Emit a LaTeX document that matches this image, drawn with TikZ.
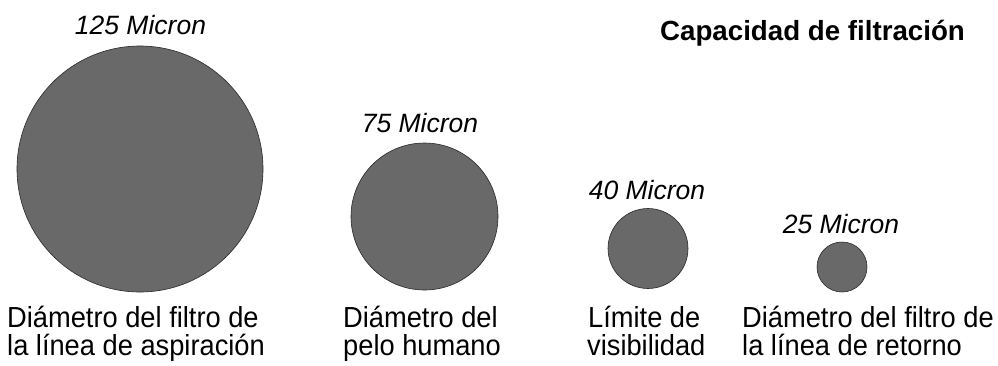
\documentclass[tikz,border=0pt]{standalone}
\usepackage{fontspec}
\setmainfont{Liberation Sans}
\newfontfamily\condfont[FakeStretch=0.94]{Liberation Sans}
\definecolor{particle}{RGB}{105,105,105}
\definecolor{rim}{RGB}{40,40,40}
\begin{document}
\begin{tikzpicture}[x=1pt,y=-1pt,
  particle/.style={circle,fill=particle,draw=rim,line width=0.6pt,inner sep=0pt,minimum size=#1},
  sizelabel/.style={anchor=base,inner sep=0pt,font=\fontsize{26.5}{30}\selectfont\itshape},
  desc/.style={anchor=base west,inner sep=0pt,font=\condfont\fontsize{29}{29}\selectfont},
  titlelabel/.style={anchor=base,inner sep=0pt,font=\fontsize{27.7}{32}\selectfont\bfseries}]
\useasboundingbox (0,0) rectangle (998,365);
\fill[white] (0,0) rectangle (998,365);
% title
\node[titlelabel] (title) at (812.5,40) {Capacidad de filtración};
% circles
\node[particle=246pt] (c125) at (140,169) {};
\node[particle=147pt] (c75) at (424.5,216.5) {};
\node[particle=80pt] (c40) at (648,248.5) {};
\node[particle=50pt] (c25) at (842,267) {};
% size labels
\node[sizelabel] (l125) at (140.5,34) {125 Micron};
\node[sizelabel] (l75) at (420,132) {75 Micron};
\node[sizelabel] (l40) at (647,199) {40 Micron};
\node[sizelabel] (l25) at (841,233) {25 Micron};
% descriptions
\node[desc] (d1a) at (7,327) {Diámetro del filtro de};
\node[desc] (d1b) at (7,355) {la línea de aspiración};
\node[desc] (d2a) at (343,327) {Diámetro del};
\node[desc] (d2b) at (343,355) {pelo humano};
\node[desc] (d3a) at (588,327) {Límite de};
\node[desc] (d3b) at (587,355) {visibilidad};
\node[desc] (d4a) at (742,327) {Diámetro del filtro de};
\node[desc] (d4b) at (742,355) {la línea de retorno};
\end{tikzpicture}
\end{document}
